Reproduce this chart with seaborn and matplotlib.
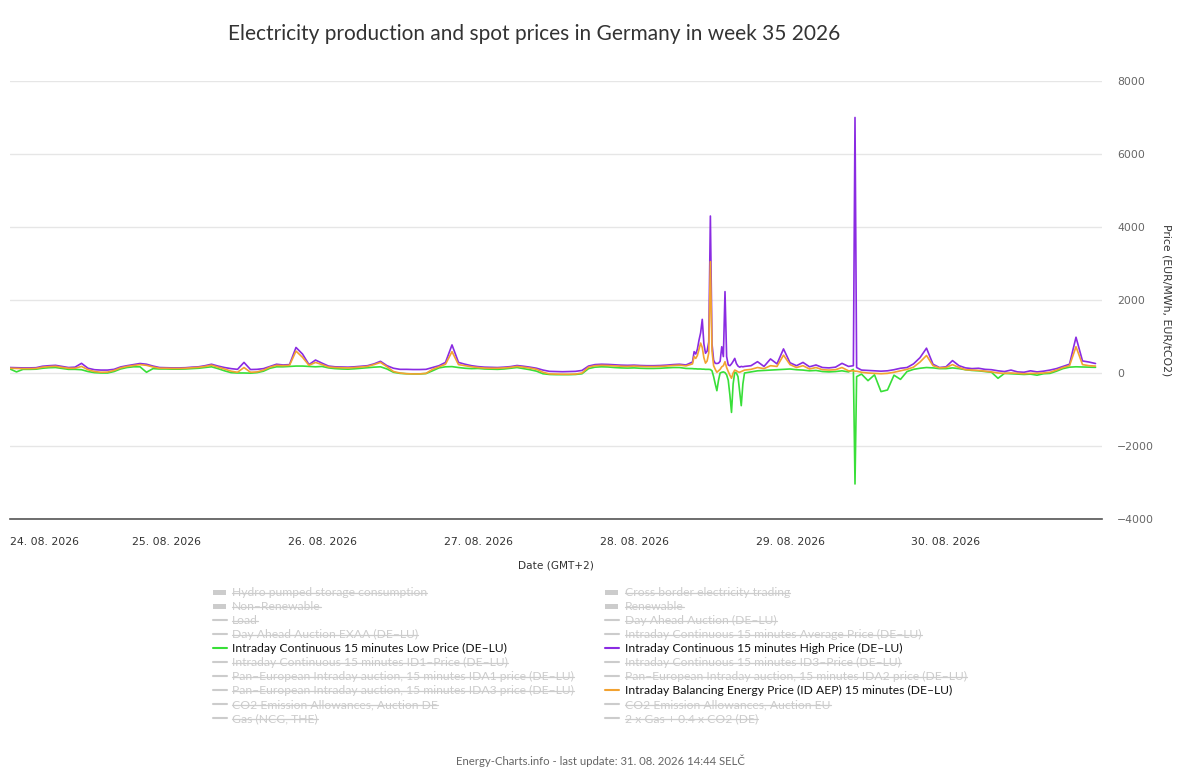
import numpy as np
import pandas as pd
import matplotlib
matplotlib.use("Agg")
import matplotlib.pyplot as plt
import matplotlib.transforms as mtransforms
from matplotlib.lines import Line2D
from matplotlib.patches import Rectangle
import seaborn as sns

# ---------------- data ----------------
day_ticks = [0, 24, 48, 72, 96, 120, 144]
day_labels = ["24. 08. 2026", "25. 08. 2026", "26. 08. 2026", "27. 08. 2026",
              "28. 08. 2026", "29. 08. 2026", "30. 08. 2026"]

series_names = ["Intraday Continuous 15 minutes Low Price (DE–LU)",
                "Intraday Continuous 15 minutes High Price (DE–LU)",
                "Intraday Balancing Energy Price (ID AEP) 15 minutes (DE–LU)"]
series_colors = ["#38df38", "#8a2be2", "#f2a230"]

# hourly values, hours since 24.08.2026 00:00 (GMT+2)
hours = list(range(168))

high_d1 = [150,145,140,140,145,185,200,210,180,150,160,265,130,90,80,80,100,165,200,230,260,240,190,150]
high_d2 = [145,140,140,145,160,170,200,240,190,150,120,100,290,95,100,120,180,240,220,230,700,520,230,355]
high_d3 = [270,190,170,165,160,170,185,200,250,320,200,130,100,100,95,95,100,150,200,290,770,290,240,200]
high_d4 = [175,160,155,150,160,175,205,185,160,130,80,45,40,35,40,45,70,190,230,240,235,225,215,210]
high_d5 = [215,205,200,200,205,215,230,240,220,300,900,540,800,270,2230,250,190,180,200,310,180,385,250,660]
high_d6 = [280,200,290,170,220,150,140,160,265,180,7000,80,70,60,50,60,90,130,150,250,420,680,240,150]
high_d7 = [170,340,200,140,120,130,100,90,60,40,80,30,20,60,30,50,80,120,180,240,980,330,300,260]

bal_d1 = [130,125,120,120,125,160,175,185,155,130,130,180,90,40,20,25,70,140,180,205,230,210,165,130]
bal_d2 = [130,125,125,130,145,155,180,215,160,110,50,20,150,20,30,80,160,210,200,210,600,430,210,290]
bal_d3 = [230,165,150,145,140,150,165,180,230,290,170,40,0,-20,-25,-25,-10,100,170,240,585,230,200,170]
bal_d4 = [150,135,130,130,140,155,180,160,135,100,20,-25,-30,-35,-35,-30,0,160,200,210,205,195,185,180]
bal_d5 = [190,180,175,175,180,190,205,215,195,250,650,270,600,60,310,-145,30,80,100,150,120,200,180,490]
bal_d6 = [230,150,200,110,150,90,80,90,150,60,50,20,0,-10,-20,-10,20,60,100,160,300,480,200,140]
bal_d7 = [150,230,150,90,80,70,50,30,0,-10,0,-10,-20,-10,-10,0,20,80,150,200,720,230,200,190]

low_d1 = [110,30,100,100,105,130,145,150,125,100,100,90,40,10,0,0,40,110,150,170,170,20,120,110]
low_d2 = [110,105,105,110,120,130,150,170,120,60,10,0,0,-5,10,50,130,170,170,180,190,190,180,170]
low_d3 = [180,140,120,110,105,115,130,145,160,170,110,20,-10,-20,-25,-25,-15,60,140,170,175,150,130,120]
low_d4 = [125,110,105,100,110,130,150,120,90,50,-20,-40,-45,-45,-45,-40,-20,120,160,170,165,150,140,135]
low_d5 = [140,130,125,125,130,140,150,150,125,120,110,100,60,-200,10,-1080,-100,0,30,60,70,80,90,100]
low_d6 = [110,90,80,60,70,40,30,40,60,30,-3040,-30,-210,-50,-510,-465,-60,-175,40,100,130,150,140,120]
low_d7 = [120,140,120,90,70,60,40,20,-145,-10,-20,-30,-40,-30,-60,-20,-10,50,120,160,170,165,160,155]

# extra quarter-hour values around the price spikes
fine_hours = [105.25,105.5,105.75,106.25,106.5,106.75,107.25,107.5,107.75,
              108.25,108.5,108.75,109.25,109.5,109.75,110.25,110.5,110.75,
              111.25,111.5,111.75,112.25,112.5,112.75,129.75,130.25]
high_fine = [585,520,650,1100,1470,800,600,850,4300,350,265,260,320,720,450,
             450,220,200,320,400,260,160,180,170,200,150]
bal_fine = [450,400,480,820,700,420,330,550,3050,200,100,20,100,170,200,
            150,40,-60,0,80,60,20,40,60,60,50]
low_fine = [115,115,110,110,105,105,100,100,95,-100,-300,-485,0,20,30,
            -50,-200,-600,-300,20,0,-500,-895,-300,100,-100]

low_hourly = low_d1 + low_d2 + low_d3 + low_d4 + low_d5 + low_d6 + low_d7
high_hourly = high_d1 + high_d2 + high_d3 + high_d4 + high_d5 + high_d6 + high_d7
bal_hourly = bal_d1 + bal_d2 + bal_d3 + bal_d4 + bal_d5 + bal_d6 + bal_d7

y_ticks = [-4000, -2000, 0, 2000, 4000, 6000, 8000]

legend_left = [
    ("Hydro pumped storage consumption", "area", None),
    ("Non–Renewable", "area", None),
    ("Load", "line", None),
    ("Day Ahead Auction EXAA (DE–LU)", "line", None),
    ("Intraday Continuous 15 minutes Low Price (DE–LU)", "line", series_colors[0]),
    ("Intraday Continuous 15 minutes ID1–Price (DE–LU)", "line", None),
    ("Pan–European Intraday auction, 15 minutes IDA1 price (DE–LU)", "line", None),
    ("Pan–European Intraday auction, 15 minutes IDA3 price (DE–LU)", "line", None),
    ("CO2 Emission Allowances, Auction DE", "line", None),
    ("Gas (NCG, THE)", "line", None),
]
legend_right = [
    ("Cross border electricity trading", "area", None),
    ("Renewable", "area", None),
    ("Day Ahead Auction (DE–LU)", "line", None),
    ("Intraday Continuous 15 minutes Average Price (DE–LU)", "line", None),
    ("Intraday Continuous 15 minutes High Price (DE–LU)", "line", series_colors[1]),
    ("Intraday Continuous 15 minutes ID3–Price (DE–LU)", "line", None),
    ("Pan–European Intraday auction, 15 minutes IDA2 price (DE–LU)", "line", None),
    ("Intraday Balancing Energy Price (ID AEP) 15 minutes (DE–LU)", "line", series_colors[2]),
    ("CO2 Emission Allowances, Auction EU", "line", None),
    ("2 x Gas + 0.4 x CO2 (DE)", "line", None),
]

# ---------------- frame ----------------
parts = []
for name, hv, fv in zip(series_names, [low_hourly, high_hourly, bal_hourly],
                        [low_fine, high_fine, bal_fine]):
    parts.append(pd.DataFrame({"hour": hours + fine_hours, "price": hv + fv, "series": name}))
df = pd.concat(parts, ignore_index=True).sort_values(["series", "hour"])

sns.set_style("white")
plt.rcParams["font.family"] = ["Lato", "DejaVu Sans"]

W, H = 1200, 778
fig = plt.figure(figsize=(W / 100, H / 100), dpi=100)
fig.patch.set_facecolor("white")

def fx(px):
    return px / W

def fy(py):
    return 1 - py / H

ax_l, ax_r, ax_t, ax_b = 10, 1102, 81, 519
ax = fig.add_axes([fx(ax_l), fy(ax_b), (ax_r - ax_l) / W, (ax_b - ax_t) / H])

sns.lineplot(data=df, x="hour", y="price", hue="series", hue_order=series_names,
             palette=dict(zip(series_names, series_colors)), estimator=None,
             sort=True, legend=False, linewidth=1.2, ax=ax)

ax.set_xlim(0, 168)
ax.set_ylim(-4000, 8000)
ax.set_xlabel("")
ax.set_ylabel("")
ax.yaxis.tick_right()
ax.set_yticks(y_ticks)
ax.set_yticklabels([str(v).replace("-", "−") for v in y_ticks])
ax.grid(axis="y", color="#e6e6e6", linewidth=1)
ax.grid(axis="x", visible=False)
for s in ["top", "left", "right"]:
    ax.spines[s].set_visible(False)
ax.spines["bottom"].set_color("#555555")
ax.spines["bottom"].set_linewidth(1.2)
ax.tick_params(axis="y", length=0, pad=11, labelsize=7.8, labelcolor="#666666")
for lab in ax.get_yticklabels():
    lab.set_fontfamily("DejaVu Sans")
ax.set_xticks(day_ticks)
ax.set_xticklabels(day_labels)
ax.tick_params(axis="x", length=0, pad=13, labelsize=7.8, labelcolor="#333333")
for i, lab in enumerate(ax.get_xticklabels()):
    lab.set_fontfamily("DejaVu Sans")
    if i == 0:
        lab.set_ha("left")

fig.text(fx(1167), fy(300), "Price (EUR/MWh, EUR/tCO2)", rotation=270,
         ha="center", va="center", fontsize=7.8, color="#333333", family="DejaVu Sans")
fig.text(fx(556), fy(565), "Date (GMT+2)", ha="center", va="center",
         fontsize=7.6, color="#333333", family="DejaVu Sans")

fig.text(fx(534), fy(34), "Electricity production and spot prices in Germany in week 35 2026",
         ha="center", va="center", fontsize=15, color="#333333")

fig.text(fx(600), fy(761), "Energy-Charts.info - last update: 31. 08. 2026 14:44 SELČ",
         ha="center", va="center", fontsize=8.2, color="#666666")

# ---------------- legend ----------------
inactive = "#cccccc"
row0, row_step = 592, 14
leg_fs = 8.7
strike_texts = []
for col_items, sx, tx in [(legend_left, 213, 232), (legend_right, 605, 625)]:
    for i, (label, kind, color) in enumerate(col_items):
        yc = row0 + i * row_step
        c = color if color else inactive
        if kind == "area":
            fig.add_artist(Rectangle((fx(sx), fy(yc + 2.5)), 13 / W, 5 / H,
                                     transform=fig.transFigure, facecolor=c, edgecolor="none"))
        else:
            fig.add_artist(Line2D([fx(sx), fx(sx + 14)], [fy(yc), fy(yc)],
                                  transform=fig.transFigure, color=c, linewidth=1.5))
        t = fig.text(fx(tx), fy(yc + 4), label, ha="left", va="baseline",
                     fontsize=leg_fs, color="#111111" if color else inactive)
        if color is None:
            strike_texts.append((t, yc))

fig.canvas.draw()
renderer = fig.canvas.get_renderer()
for t, yc in strike_texts:
    bb = t.get_window_extent(renderer)
    ys = H - (yc + 0.5)
    fig.add_artist(Line2D([bb.x0, bb.x1], [ys, ys], transform=mtransforms.IdentityTransform(),
                          color=inactive, linewidth=0.9))

fig.savefig("out.png", dpi=100, facecolor="white")
